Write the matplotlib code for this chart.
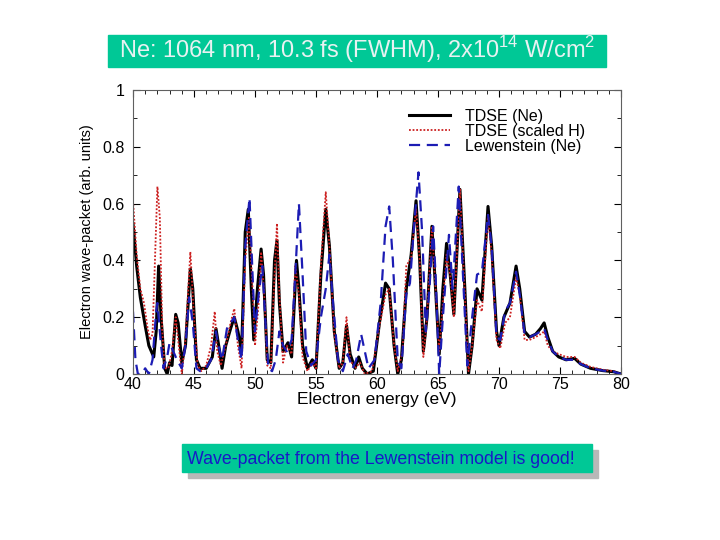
import numpy as np
import matplotlib.pyplot as plt
from matplotlib.patches import Rectangle
from matplotlib.ticker import MultipleLocator

plt.rcParams['font.family'] = ['Liberation Sans', 'DejaVu Sans']
plt.rcParams['mathtext.fontset'] = 'custom'
plt.rcParams['mathtext.rm'] = 'Liberation Sans'

# TDSE (Ne)
ne_x = [40.0, 40.3, 40.6, 41.0, 41.3, 41.5, 41.7, 41.9, 42.1, 42.3, 42.6, 42.8, 43.0, 43.2,
        43.5, 43.7, 44.0, 44.3, 44.7, 44.9, 45.2, 45.5, 46.0, 46.5, 46.8, 47.1, 47.3, 47.6,
        48.0, 48.3, 48.6, 48.9, 49.2, 49.45, 49.7, 49.9, 50.2, 50.5, 50.7, 51.0, 51.3, 51.6,
        51.8, 52.0, 52.3, 52.7, 53.0, 53.4, 53.6, 53.9, 54.3, 54.7, 55.0, 55.4, 55.8, 56.1,
        56.5, 56.9, 57.2, 57.5, 57.8, 58.2, 58.5, 58.8, 59.2, 59.7, 60.2, 60.7, 61.0, 61.4,
        61.7, 62.0, 62.4, 62.8, 63.2, 63.5, 63.8, 64.1, 64.5, 64.8, 65.1, 65.4, 65.7, 66.0,
        66.3, 66.8, 67.2, 67.5, 67.8, 68.2, 68.6, 69.1, 69.4, 69.8, 70.0, 70.4, 70.9, 71.4,
        71.7, 72.1, 72.5, 73.0, 73.4, 73.7, 74.0, 74.4, 74.9, 75.5, 76.2, 76.7, 77.5, 78.5,
        79.4, 80.0]
ne_y = [0.53, 0.38, 0.27, 0.17, 0.10, 0.08, 0.06, 0.15, 0.38, 0.20, 0.02, 0.0, 0.04, 0.03,
        0.21, 0.18, 0.04, 0.10, 0.37, 0.30, 0.05, 0.02, 0.02, 0.06, 0.16, 0.08, 0.02, 0.10,
        0.16, 0.20, 0.15, 0.08, 0.50, 0.58, 0.30, 0.12, 0.30, 0.44, 0.35, 0.05, 0.04, 0.40,
        0.47, 0.25, 0.08, 0.11, 0.06, 0.40, 0.30, 0.10, 0.02, 0.05, 0.02, 0.35, 0.58, 0.45,
        0.15, 0.02, 0.04, 0.17, 0.07, 0.02, 0.06, 0.02, 0.0, 0.01, 0.18, 0.32, 0.30, 0.10,
        0.0, 0.05, 0.30, 0.42, 0.61, 0.40, 0.08, 0.20, 0.52, 0.30, 0.07, 0.30, 0.46, 0.35,
        0.21, 0.65, 0.30, 0.0, 0.10, 0.30, 0.26, 0.59, 0.45, 0.15, 0.10, 0.20, 0.25, 0.38,
        0.30, 0.15, 0.13, 0.14, 0.16, 0.18, 0.13, 0.08, 0.06, 0.05, 0.055, 0.035, 0.02, 0.012,
        0.008, 0.0]

# TDSE (scaled H)
h_x = [40.0, 40.3, 40.6, 40.9, 41.2, 41.4, 41.6, 41.8, 42.0, 42.2, 42.4, 42.6, 42.9, 43.2,
       43.5, 43.7, 44.0, 44.3, 44.7, 45.0, 45.3, 45.6, 46.0, 46.4, 46.7, 46.9, 47.2, 47.6,
       48.0, 48.3, 48.6, 48.9, 49.2, 49.5, 49.8, 50.0, 50.3, 50.5, 50.8, 51.0, 51.3, 51.5,
       51.8, 52.0, 52.3, 52.6, 53.0, 53.3, 53.6, 53.9, 54.3, 54.7, 55.0, 55.4, 55.8, 56.1,
       56.5, 56.9, 57.2, 57.5, 57.8, 58.2, 58.6, 59.0, 59.6, 60.2, 60.7, 61.0, 61.4, 61.7,
       62.1, 62.4, 62.8, 63.2, 63.5, 63.8, 64.1, 64.5, 64.8, 65.1, 65.4, 65.7, 66.0, 66.3,
       66.8, 67.2, 67.5, 67.8, 68.2, 68.6, 69.1, 69.4, 69.8, 70.1, 70.5, 70.9, 71.4, 71.7,
       72.1, 72.5, 73.0, 73.4, 73.7, 74.0, 74.4, 74.9, 75.5, 76.2, 76.7, 77.5, 78.5, 79.4,
       80.0]
h_y = [0.61, 0.42, 0.30, 0.25, 0.16, 0.12, 0.14, 0.40, 0.66, 0.55, 0.15, 0.02, 0.02, 0.08,
       0.20, 0.12, 0.0, 0.12, 0.43, 0.20, 0.03, 0.01, 0.03, 0.10, 0.22, 0.08, 0.03, 0.10,
       0.18, 0.23, 0.10, 0.02, 0.40, 0.55, 0.30, 0.10, 0.25, 0.43, 0.25, 0.03, 0.02, 0.25,
       0.53, 0.28, 0.04, 0.10, 0.07, 0.38, 0.28, 0.06, 0.01, 0.04, 0.02, 0.38, 0.64, 0.45,
       0.14, 0.02, 0.04, 0.20, 0.05, 0.02, 0.04, 0.0, 0.01, 0.17, 0.28, 0.30, 0.10, 0.01,
       0.08, 0.38, 0.41, 0.58, 0.40, 0.06, 0.20, 0.52, 0.30, 0.08, 0.25, 0.42, 0.35, 0.20,
       0.65, 0.28, 0.01, 0.10, 0.26, 0.22, 0.56, 0.42, 0.12, 0.09, 0.18, 0.20, 0.34, 0.28,
       0.12, 0.12, 0.13, 0.14, 0.15, 0.10, 0.08, 0.07, 0.06, 0.06, 0.04, 0.025, 0.015, 0.01,
       0.0]

# Lewenstein (Ne)
lw_x = [40.0, 40.2, 40.4, 40.7, 41.0, 41.3, 41.6, 41.9, 42.0, 42.3, 42.5, 42.8, 43.0, 43.3,
        43.6, 44.0, 44.3, 44.6, 44.9, 45.2, 45.5, 46.0, 46.4, 46.8, 47.0, 47.3, 47.7, 48.0,
        48.3, 48.6, 48.9, 49.2, 49.55, 49.8, 50.0, 50.3, 50.6, 50.9, 51.1, 51.4, 51.7, 52.0,
        52.3, 52.6, 53.0, 53.3, 53.6, 53.9, 54.2, 54.6, 55.0, 55.4, 55.8, 56.1, 56.4, 56.8,
        57.2, 57.6, 58.0, 58.3, 58.7, 59.0, 59.3, 59.8, 60.3, 60.7, 61.0, 61.3, 61.7, 62.0,
        62.4, 62.7, 63.0, 63.4, 63.7, 64.0, 64.3, 64.6, 64.8, 65.1, 65.4, 65.9, 66.2, 66.7,
        67.1, 67.4, 67.8, 68.2, 68.6, 69.1, 69.4, 69.8, 70.1, 70.5, 70.9, 71.4, 71.7, 72.1,
        72.5, 73.0, 73.4, 73.7, 74.0, 74.4, 74.9, 75.5, 76.2, 76.7, 77.5, 78.5, 79.4, 80.0]
lw_y = [0.22, 0.05, 0.0, 0.0, 0.02, 0.0, 0.05, 0.22, 0.25, 0.10, 0.02, 0.06, 0.11, 0.08,
        0.05, 0.02, 0.10, 0.27, 0.18, 0.02, 0.01, 0.02, 0.05, 0.15, 0.10, 0.05, 0.16, 0.18,
        0.20, 0.12, 0.05, 0.45, 0.62, 0.35, 0.15, 0.28, 0.38, 0.15, 0.02, 0.01, 0.05, 0.15,
        0.10, 0.08, 0.12, 0.35, 0.60, 0.35, 0.08, 0.03, 0.05, 0.20, 0.30, 0.42, 0.25, 0.05,
        0.01, 0.07, 0.02, 0.05, 0.14, 0.08, 0.02, 0.05, 0.25, 0.52, 0.59, 0.40, 0.05, 0.02,
        0.28, 0.32, 0.50, 0.71, 0.50, 0.15, 0.30, 0.52, 0.35, 0.0, 0.20, 0.49, 0.30, 0.66,
        0.30, 0.03, 0.20, 0.35, 0.36, 0.56, 0.45, 0.13, 0.12, 0.22, 0.25, 0.36, 0.28, 0.14,
        0.13, 0.14, 0.15, 0.16, 0.12, 0.08, 0.06, 0.05, 0.05, 0.035, 0.02, 0.012, 0.008, 0.0]

green = '#00c896'

fig = plt.figure(figsize=(7.2, 5.4), dpi=100)
ax = fig.add_axes([133 / 720, 1 - 374 / 540, 488 / 720, 284 / 540])

ax.plot(ne_x, ne_y, color='black', lw=2.2, label='TDSE (Ne)')
ax.plot(h_x, h_y, color='#cc2020', lw=1.3, linestyle=(0, (1, 1)), label='TDSE (scaled H)')
ax.plot(lw_x, lw_y, color='#1c1cb4', lw=1.6, linestyle=(0, (5, 3)), label='Lewenstein (Ne)')

ax.set_xlim(40, 80)
ax.set_ylim(0, 1)
ax.xaxis.set_major_locator(MultipleLocator(5))
ax.xaxis.set_minor_locator(MultipleLocator(1))
ax.yaxis.set_minor_locator(MultipleLocator(0.1))
ax.set_yticks([0, 0.2, 0.4, 0.6, 0.8, 1])
ax.set_yticklabels(['0', '0.2', '0.4', '0.6', '0.8', '1'])
ax.tick_params(which='both', direction='in', top=True, right=True, labelsize=11.5)
ax.tick_params(axis='y', pad=6)
ax.tick_params(axis='x', pad=2)
ax.tick_params(which='major', length=5, width=0.8)
ax.tick_params(which='minor', length=3, width=0.6)
for s in ax.spines.values():
    s.set_color('#606060')
    s.set_linewidth(0.8)

ax.set_xlabel('Electron energy (eV)', fontsize=12.5, labelpad=0)
ax.set_ylabel('Electron wave-packet (arb. units)', fontsize=10.5, labelpad=6)

ax.legend(loc='upper right', bbox_to_anchor=(0.955, 0.985), frameon=False, fontsize=11.5,
          handlelength=2.6, labelspacing=0.0, handletextpad=0.9)

# title box
fig.patches.append(Rectangle((108 / 720, 1 - 67 / 540), 498 / 720, 32 / 540,
                             transform=fig.transFigure, color=green, zorder=0))
fig.text(357 / 720, 1 - 50 / 540, r'Ne: 1064 nm, 10.3 fs (FWHM), 2x10$^{\mathregular{14}}$ W/cm$^{\mathregular{2}}$',
         ha='center', va='center', color='#e8f2f2', fontsize=17)

# bottom box with shadow
fig.patches.append(Rectangle((188 / 720, 1 - 478 / 540), 410 / 720, 28 / 540,
                             transform=fig.transFigure, color='#b8b8b8', zorder=0))
fig.patches.append(Rectangle((182 / 720, 1 - 472 / 540), 410 / 720, 28 / 540,
                             transform=fig.transFigure, color=green, zorder=1))
fig.text(187 / 720, 1 - 459 / 540, 'Wave-packet from the Lewenstein model is good!',
         ha='left', va='center', color='#1818c8', fontsize=12.8)

fig.savefig('out.png', dpi=100)
